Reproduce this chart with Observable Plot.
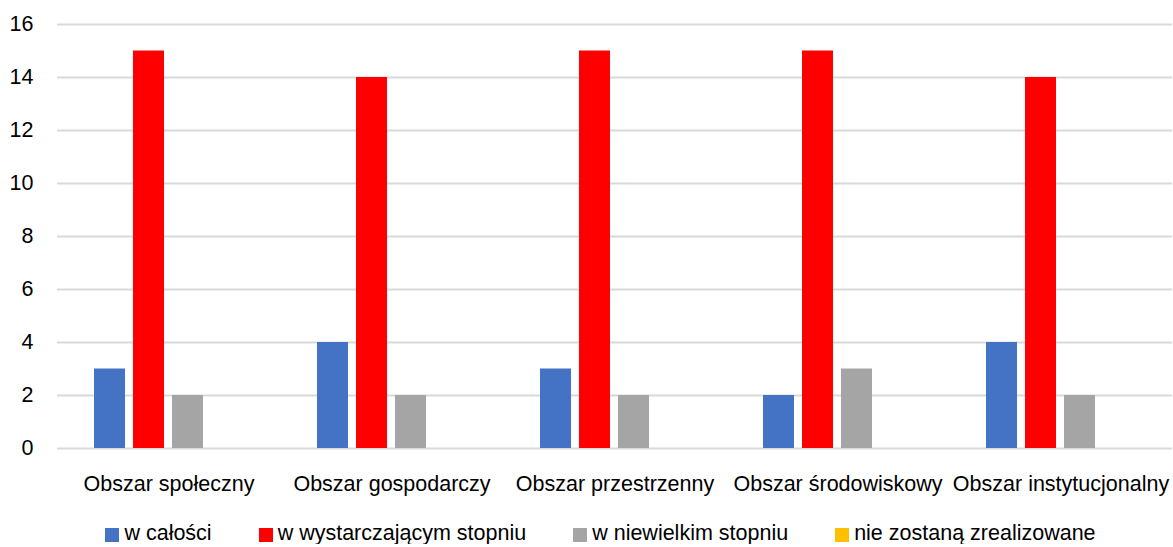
<!DOCTYPE html>
<html>
<head>
<meta charset="utf-8">
<script src="https://cdn.jsdelivr.net/npm/d3@7"></script>
<script src="https://cdn.jsdelivr.net/npm/@observablehq/plot@0.6"></script>
<style>
  body { margin: 0; background: #fff; font-family: "Liberation Sans", Arial, sans-serif; }
  #legend { display: flex; justify-content: center; padding-left: 28px; gap: 47px; margin-top: 12px; font-size: 21.5px; line-height: 22px; color: #000; }
  .item { display: flex; align-items: center; }
  .sw { width: 14px; height: 14px; margin-right: 5px; margin-top: 3px; }
</style>
</head>
<body>
<div id="chart"></div>
<div id="legend"></div>
<script>
const categories = ["Obszar społeczny", "Obszar gospodarczy", "Obszar przestrzenny", "Obszar środowiskowy", "Obszar instytucjonalny"];
const seriesNames = ["w całości", "w wystarczającym stopniu", "w niewielkim stopniu", "nie zostaną zrealizowane"];
const wCalosci = [3, 4, 3, 2, 4];
const wWystarczajacym = [15, 14, 15, 15, 14];
const wNiewielkim = [2, 2, 2, 3, 2];
const nieZostana = [0, 0, 0, 0, 0];
const colors = ["#4472C4", "#FF0000", "#A5A5A5", "#FFC000"];
const yTicks = [0, 2, 4, 6, 8, 10, 12, 14, 16];

const seriesValues = [wCalosci, wWystarczajacym, wNiewielkim, nieZostana];
const data = [];
categories.forEach((c, i) => {
  seriesNames.forEach((s, j) => {
    data.push({cat: c, series: s, value: seriesValues[j][i]});
  });
});

const chart = Plot.plot({
  width: 1173,
  height: 510,
  marginLeft: 56,
  marginRight: 0,
  marginTop: 24,
  marginBottom: 62,
  style: {fontFamily: "'Liberation Sans', Arial, sans-serif", fontSize: "21.5px", color: "#000", background: "#fff"},
  fx: {domain: categories, padding: 0, label: null, axis: "bottom", tickSize: 0, tickPadding: 27},
  x: {domain: seriesNames, axis: null, paddingInner: 0.2, paddingOuter: 0.89},
  y: {domain: [0, 16], ticks: yTicks, label: null, tickSize: 0, tickPadding: 24},
  color: {domain: seriesNames, range: colors},
  marks: [
    Plot.ruleY(yTicks, {stroke: "#d9d9d9", strokeWidth: 2}),
    Plot.barY(data, {fx: "cat", x: "series", y: "value", fill: "series"})
  ]
});
document.getElementById("chart").appendChild(chart);

const legend = document.getElementById("legend");
seriesNames.forEach((s, j) => {
  const item = document.createElement("div");
  item.className = "item";
  const sw = document.createElement("span");
  sw.className = "sw";
  sw.style.background = colors[j];
  const t = document.createElement("span");
  t.textContent = s;
  item.appendChild(sw);
  item.appendChild(t);
  legend.appendChild(item);
});
</script>
</body>
</html>
